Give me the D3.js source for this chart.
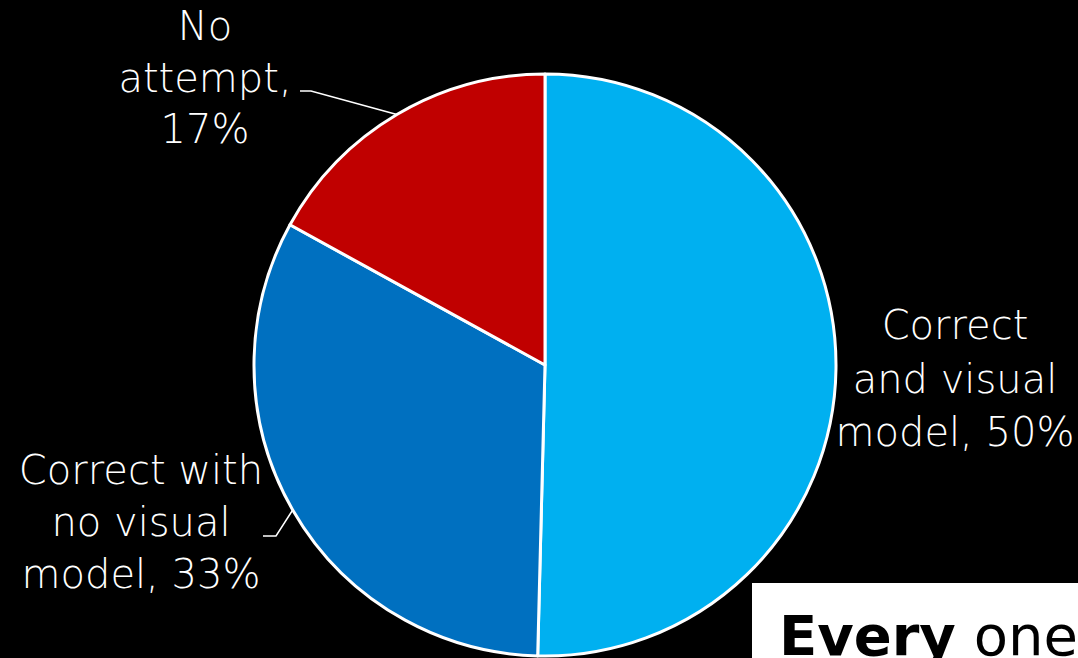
<!DOCTYPE html>
<html>
<head>
<meta charset="utf-8">
<script src="https://cdn.jsdelivr.net/npm/d3@7"></script>
<style>
  html, body { margin: 0; padding: 0; background: #000; }
  #chart { width: 1078px; height: 658px; overflow: hidden; }
</style>
</head>
<body>
<div id="chart"></div>
<script>

// slices, clockwise from 12 o'clock
const categories = ["Correct and visual model", "Correct with no visual model", "No attempt"];
const values = [50.4, 32.6, 17.0];
const pctLabels = ["50%", "33%", "17%"];
const labelLines = [
    ["Correct", "and visual", "model, 50%"],
    ["Correct with", "no visual", "model, 33%"],
    ["No", "attempt,", "17%"]
];
const colors = ["#00B0F0", "#0070C0", "#C00000"];

const width = 1078, height = 658;
const cx = 545, cy = 365, radius = 291;

let svg = d3.select('#chart').append('svg')
    .attr('width', width)
    .attr('height', height)
    .style('background', '#000');

let data = categories.map((c, i) => ({ name: c, value: values[i], color: colors[i], lines: labelLines[i] }));

const pie = d3.pie()
    .sort(null)
    .value(d => d.value);

const arc = d3.arc()
    .innerRadius(0)
    .outerRadius(radius);

let g = svg.append('g')
    .attr('transform', `translate(${cx},${cy})`);

let arcs = pie(data);

g.selectAll('path.slice')
    .data(arcs)
    .enter().append('path')
    .attr('class', 'slice')
    .attr('d', arc)
    .attr('fill', d => d.data.color)
    .attr('stroke', '#fff')
    .attr('stroke-width', 3)
    .attr('stroke-linejoin', 'round');

// label layout: centre x, first baseline, line step, leader elbow
const labelPos = [
    { x: 955, y: 339, step: 53.5, leader: null },
    { x: 141, y: 484, step: 52, leader: { x1: 263, y1: 536, x2: 276, y2: 536 } },
    { x: 205, y: 40, step: 51.5, leader: { x1: 300, y1: 91, x2: 311, y2: 91 } }
];

arcs.forEach((a, i) => {
    const p = labelPos[i];
    const t = svg.append('text')
        .attr('text-anchor', 'middle')
        .attr('fill', '#fff')
        .style('font-family', '"DejaVu Sans", sans-serif')
        .style('font-size', '40px')
        .style('font-weight', 200);
    a.data.lines.forEach((ln, j) => {
        t.append('tspan')
            .attr('x', p.x)
            .attr('y', p.y + j * p.step)
            .text(ln);
    });

    if (p.leader) {
        const mid = (a.startAngle + a.endAngle) / 2;
        const ex = cx + radius * Math.sin(mid);
        const ey = cy - radius * Math.cos(mid);
        svg.append('polyline')
            .attr('points', `${p.leader.x1},${p.leader.y1} ${p.leader.x2},${p.leader.y2} ${ex},${ey}`)
            .attr('fill', 'none')
            .attr('stroke', '#fff')
            .attr('stroke-width', 1.5);
    }
});

// white text box, cut off at bottom right
svg.append('rect')
    .attr('x', 752)
    .attr('y', 583)
    .attr('width', 400)
    .attr('height', 120)
    .attr('fill', '#fff');

let box = svg.append('text')
    .attr('x', 779)
    .attr('y', 655)
    .attr('fill', '#000')
    .style('font-family', '"DejaVu Sans", sans-serif')
    .style('font-size', '56px');
box.append('tspan').style('font-weight', 'bold').text('Every');
box.append('tspan').text(' one');

</script>
</body>
</html>
